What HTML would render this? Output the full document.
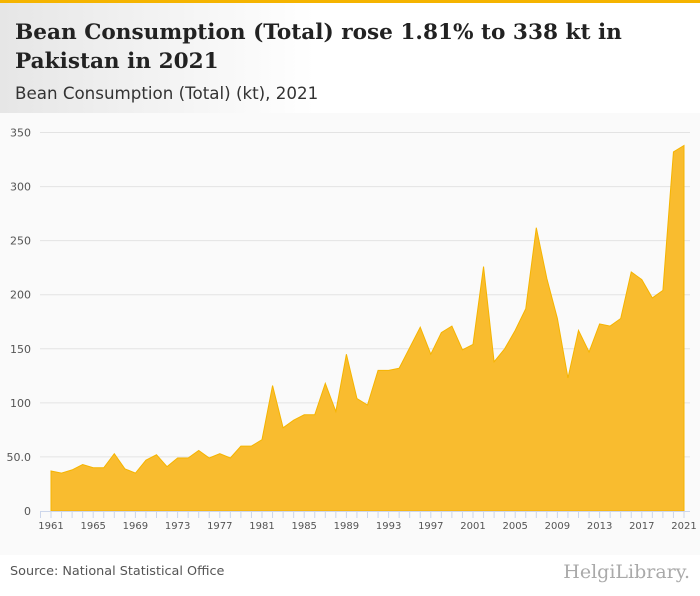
<!DOCTYPE html>
<html><head><meta charset="utf-8"><style>
body{margin:0;width:700px;height:596px;background:#fff;font-family:"DejaVu Sans",sans-serif;position:relative;overflow:hidden}
#topbar{position:absolute;left:0;top:0;width:700px;height:3px;background:#f5b400}
#head{position:absolute;left:0;top:3px;width:700px;height:110px;background:linear-gradient(90deg,#e6e6e6 0%,#fff 45%)}
#title{position:absolute;left:15px;top:15px;font-family:"DejaVu Serif",serif;font-weight:bold;font-size:21.6px;line-height:29px;color:#222;margin:0;white-space:nowrap}
#sub{position:absolute;left:15px;top:80px;font-size:16.7px;color:#333}
#chart{position:absolute;left:0;top:113px}
#src{position:absolute;left:10px;top:564px;font-size:12.8px;color:#555}
#logo{position:absolute;right:10px;top:561px;font-size:19px;color:#aaa;font-family:"DejaVu Serif",serif}
</style></head><body>
<div id="topbar"></div>
<div id="head">
<h1 id="title">Bean Consumption (Total) rose 1.81% to 338 kt in<br>Pakistan in 2021</h1>
<div id="sub">Bean Consumption (Total) (kt), 2021</div>
</div>
<svg id="chart" width="700" height="442"></svg>
<div id="src">Source: National Statistical Office</div>
<div id="logo">HelgiLibrary.</div>
<script>
const years=[];for(let y=1961;y<=2021;y++)years.push(y);
const values=[37,35,38,43,40,40,53,39,35,47,52,41,49,49,56,49,53,49,60,60,66,116,77,84,89,89,118,92,145,104,98,130,130,132,151,170,145,165,171,149,154,226,138,150,167,187,262,215,178,123,167,147,173,171,178,221,214,197,204,332,338];
const yTicks=[0,50,100,150,200,250,300,350];
const yTickLabels=["0","50.0","100","150","200","250","300","350"];
const xTickYears=[1961,1965,1969,1973,1977,1981,1985,1989,1993,1997,2001,2005,2009,2013,2017,2021];
const OY=113;
const svg=document.getElementById('chart');
const NS='http://www.w3.org/2000/svg';
const x0=51,x1=684,yb=511-OY,yt=132.5-OY;
const X=y=>x0+(y-1961)*(x1-x0)/(2021-1961);
const Y=v=>yb-(v/350)*(yb-yt);
function mk(t,a){const e=document.createElementNS(NS,t);for(const k in a)e.setAttribute(k,a[k]);svg.appendChild(e);return e;}
const bg=mk('rect',{x:0,y:0,width:700,height:442,fill:'#fafafa'});


yTicks.forEach((t,i)=>{
  if(t>0){const g=mk('line',{x1:40,x2:690,y1:Y(t),y2:Y(t),stroke:'#e3e3e3','stroke-width':1});
  
  }
  const l=mk('text',{x:31,y:Y(t)+4,'text-anchor':'end','font-size':11,fill:'#555','font-family':'DejaVu Sans'});
  l.textContent=yTickLabels[i];
  
  
});
let d='M'+X(years[0])+','+yb;
years.forEach((y,i)=>{d+=' L'+X(y).toFixed(2)+','+Y(values[i]).toFixed(2);});
d+=' L'+X(years[years.length-1])+','+yb+' Z';
const area=mk('path',{d:d,fill:'#f9bc2f',stroke:'#f5b400','stroke-width':1});


const ax=mk('line',{x1:40,x2:690,y1:yb+0.5,y2:yb+0.5,stroke:'#ccd6eb','stroke-width':1});


years.forEach(y=>{
  const t=mk('line',{x1:X(y),x2:X(y),y1:yb,y2:yb+7,stroke:'#ccd6eb','stroke-width':1});
  
  
});
const tl=mk('line',{x1:40.5,x2:40.5,y1:yb,y2:yb+7,stroke:'#ccd6eb'});


xTickYears.forEach(y=>{
  const l=mk('text',{x:X(y),y:yb+18,'text-anchor':'middle','font-size':10,fill:'#555','font-family':'DejaVu Sans'});
  l.textContent=y;
  
  
});
</script>
</body></html>
